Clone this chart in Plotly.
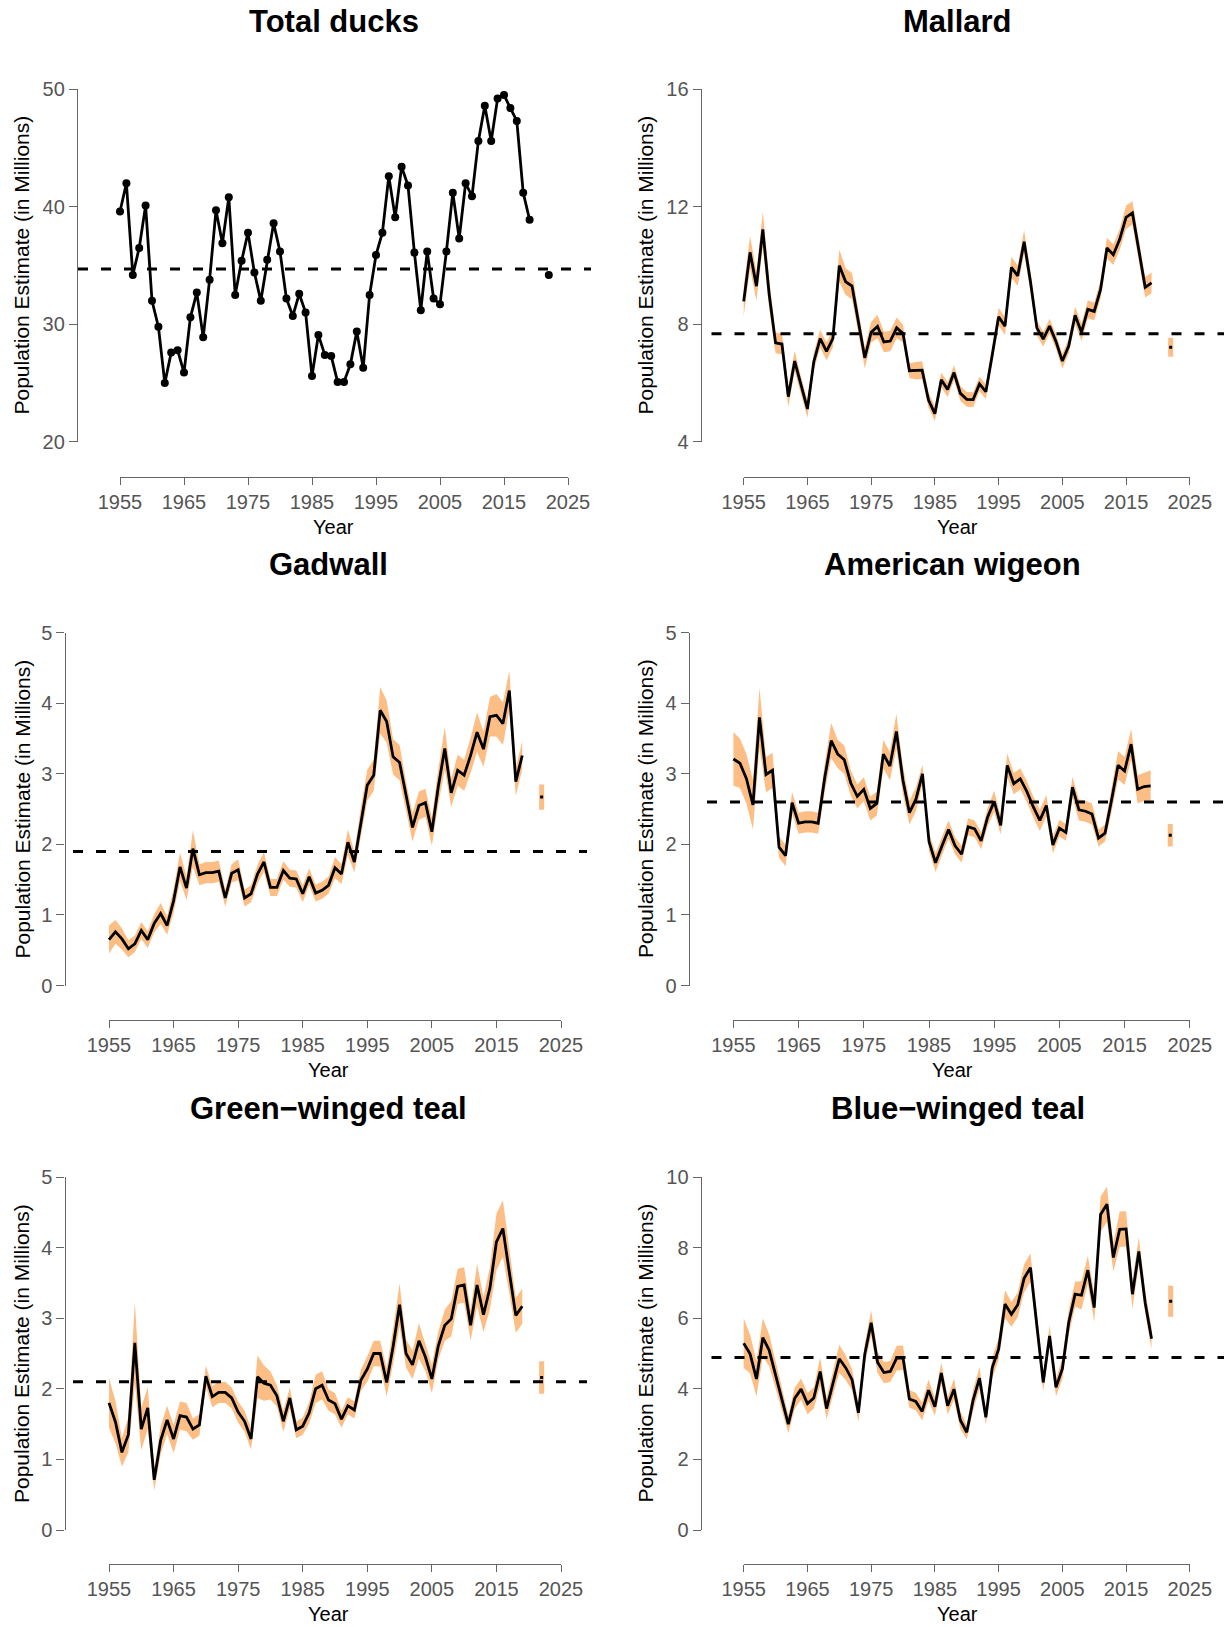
import plotly.graph_objects as go

W, H = 1225, 1627

# ---------------- data ----------------
years = list(range(1955, 2020))
extra_year = 2022
year_ticks = [1955, 1965, 1975, 1985, 1995, 2005, 2015, 2025]

total_ducks = [39.6, 42.0, 34.2, 36.5, 40.1, 32.0, 29.8, 25.0, 27.6, 27.8,
               25.9, 30.6, 32.7, 28.9, 33.8, 39.7, 36.9, 40.8, 32.5, 35.4,
               37.8, 34.4, 32.0, 35.5, 38.6, 36.2, 32.2, 30.7, 32.6, 31.0,
               25.6, 29.1, 27.4, 27.3, 25.1, 25.1, 26.6, 29.4, 26.3, 32.5,
               35.9, 37.8, 42.6, 39.1, 43.4, 41.8, 36.1, 31.2, 36.2, 32.2,
               31.7, 36.2, 41.2, 37.3, 42.0, 40.9, 45.6, 48.6, 45.6, 49.2,
               49.5, 48.4, 47.3, 41.2, 38.9]
total_ducks_2022 = 34.2
total_ducks_lta = 34.7

mallard = [8.78, 10.45, 9.30, 11.23, 9.02, 7.37, 7.33, 5.54, 6.75, 5.90,
           5.12, 6.73, 7.51, 7.08, 7.52, 10.00, 9.45, 9.30, 8.08, 6.86,
           7.73, 7.93, 7.40, 7.43, 7.88, 7.69, 6.42, 6.42, 6.44, 5.42,
           4.96, 6.11, 5.78, 6.36, 5.65, 5.45, 5.44, 5.97, 5.71, 6.96,
           8.26, 7.94, 9.94, 9.65, 10.81, 9.45, 7.88, 7.50, 7.94, 7.42,
           6.75, 7.26, 8.31, 7.73, 8.51, 8.44, 9.19, 10.60, 10.37, 10.89,
           11.64, 11.79, 10.49, 9.26, 9.41]
mallard_ci = [0.50, 0.55, 0.50, 0.60, 0.50,
              0.35, 0.35, 0.35, 0.35, 0.30, 0.30, 0.30, 0.30, 0.30, 0.30,
              0.55, 0.45, 0.45, 0.40, 0.35, 0.35, 0.40, 0.35, 0.35, 0.35,
              0.30, 0.25, 0.30, 0.30, 0.25, 0.25, 0.25, 0.25, 0.25, 0.25,
              0.25, 0.25, 0.25, 0.25, 0.25, 0.30, 0.30, 0.35, 0.35, 0.40,
              0.35, 0.25, 0.25, 0.25, 0.25, 0.25, 0.25, 0.30, 0.30, 0.30,
              0.30, 0.30, 0.35, 0.35, 0.35, 0.40, 0.40, 0.35, 0.35, 0.35]
mallard_2022 = 7.22
mallard_2022_ci = 0.32
mallard_lta = 7.68

gadwall = [0.65, 0.76, 0.66, 0.52, 0.59, 0.78, 0.65, 0.88, 1.02, 0.85,
           1.20, 1.68, 1.38, 1.94, 1.57, 1.60, 1.60, 1.62, 1.24, 1.59,
           1.64, 1.24, 1.30, 1.58, 1.75, 1.39, 1.39, 1.63, 1.52, 1.51,
           1.30, 1.54, 1.31, 1.35, 1.42, 1.67, 1.58, 2.03, 1.75, 2.32,
           2.84, 2.98, 3.90, 3.74, 3.24, 3.16, 2.69, 2.24, 2.55, 2.59,
           2.18, 2.82, 3.36, 2.73, 3.05, 2.98, 3.26, 3.59, 3.35, 3.81,
           3.83, 3.71, 4.18, 2.89, 3.26]
gadwall_ci = [0.20, 0.17, 0.15, 0.12, 0.12,
              0.12, 0.12, 0.13, 0.15, 0.13, 0.17, 0.20, 0.17, 0.26, 0.15,
              0.15, 0.15, 0.15, 0.12, 0.13, 0.15, 0.12, 0.12, 0.13, 0.14,
              0.12, 0.12, 0.13, 0.12, 0.12, 0.12, 0.12, 0.12, 0.12, 0.12,
              0.15, 0.14, 0.18, 0.15, 0.20, 0.22, 0.22, 0.33, 0.30, 0.25,
              0.25, 0.20, 0.20, 0.20, 0.20, 0.20, 0.25, 0.30, 0.20, 0.22,
              0.22, 0.25, 0.28, 0.25, 0.28, 0.30, 0.30, 0.28, 0.20, 0.20]
gadwall_2022 = 2.67
gadwall_2022_ci = 0.18
gadwall_lta = 1.90

american_wigeon = [3.21, 3.15, 2.93, 2.56, 3.80, 2.99, 3.05, 1.96, 1.84, 2.59,
                   2.30, 2.32, 2.32, 2.30, 2.94, 3.47, 3.28, 3.20, 2.87, 2.68,
                   2.78, 2.51, 2.58, 3.28, 3.11, 3.60, 2.91, 2.45, 2.64, 3.00,
                   2.04, 1.74, 1.98, 2.21, 1.98, 1.86, 2.25, 2.22, 2.05, 2.39,
                   2.61, 2.27, 3.12, 2.86, 2.93, 2.75, 2.53, 2.34, 2.55, 1.99,
                   2.23, 2.17, 2.81, 2.49, 2.47, 2.43, 2.09, 2.16, 2.63, 3.12,
                   3.04, 3.42, 2.78, 2.82, 2.83]
american_wigeon_ci = [0.38, 0.35, 0.35, 0.35, 0.42,
                      0.25, 0.25, 0.15, 0.15, 0.15, 0.15, 0.15, 0.15, 0.15, 0.20,
                      0.25, 0.20, 0.20, 0.18, 0.17, 0.17, 0.17, 0.17, 0.20, 0.20,
                      0.25, 0.20, 0.17, 0.17, 0.13, 0.13, 0.13, 0.13, 0.13, 0.12,
                      0.12, 0.12, 0.12, 0.12, 0.13, 0.15, 0.13, 0.17, 0.15, 0.15,
                      0.15, 0.15, 0.15, 0.15, 0.12, 0.12, 0.12, 0.15, 0.15, 0.15,
                      0.15, 0.12, 0.12, 0.17, 0.20, 0.20, 0.22, 0.20, 0.20, 0.22]
american_wigeon_2022 = 2.13
american_wigeon_2022_ci = 0.16
american_wigeon_lta = 2.60

green_winged_teal = [1.80, 1.53, 1.10, 1.35, 2.65, 1.43, 1.73, 0.71, 1.27, 1.56,
                     1.29, 1.62, 1.60, 1.43, 1.49, 2.18, 1.89, 1.95, 1.95, 1.87,
                     1.67, 1.54, 1.29, 2.17, 2.08, 2.05, 1.90, 1.54, 1.87, 1.42,
                     1.47, 1.66, 2.00, 2.05, 1.84, 1.79, 1.57, 1.76, 1.70, 2.12,
                     2.28, 2.50, 2.50, 2.09, 2.60, 3.19, 2.50, 2.34, 2.68, 2.45,
                     2.14, 2.61, 2.90, 2.99, 3.45, 3.47, 2.90, 3.47, 3.05, 3.43,
                     4.08, 4.27, 3.65, 3.04, 3.17]
green_winged_teal_ci = [0.35, 0.30, 0.20, 0.25, 0.58,
                        0.30, 0.30, 0.15, 0.20, 0.20, 0.20, 0.20, 0.20, 0.15, 0.15,
                        0.15, 0.15, 0.15, 0.15, 0.15, 0.15, 0.15, 0.15, 0.30, 0.25,
                        0.20, 0.15, 0.15, 0.15, 0.12, 0.12, 0.15, 0.20, 0.20, 0.15,
                        0.15, 0.12, 0.12, 0.12, 0.15, 0.18, 0.18, 0.18, 0.20, 0.25,
                        0.30, 0.20, 0.20, 0.25, 0.20, 0.20, 0.20, 0.22, 0.25, 0.25,
                        0.25, 0.22, 0.30, 0.25, 0.30, 0.40, 0.40, 0.30, 0.25, 0.25]
green_winged_teal_2022 = 2.16
green_winged_teal_2022_ci = 0.23
green_winged_teal_lta = 2.10

blue_winged_teal = [5.29, 4.99, 4.28, 5.45, 5.09, 4.41, 3.68, 3.00, 3.73, 3.99,
                    3.58, 3.74, 4.49, 3.44, 4.15, 4.85, 4.60, 4.26, 3.32, 4.98,
                    5.87, 4.75, 4.46, 4.49, 4.87, 4.88, 3.71, 3.64, 3.36, 3.96,
                    3.49, 4.45, 3.52, 3.99, 3.11, 2.77, 3.68, 4.30, 3.19, 4.60,
                    5.12, 6.40, 6.11, 6.38, 7.13, 7.43, 5.80, 4.18, 5.50, 4.04,
                    4.56, 5.88, 6.68, 6.65, 7.36, 6.30, 8.94, 9.23, 7.72, 8.52,
                    8.53, 6.68, 7.89, 6.44, 5.42]
blue_winged_teal_ci = [0.70, 0.55, 0.50, 0.55, 0.45,
                       0.40, 0.35, 0.25, 0.30, 0.30, 0.30, 0.30, 0.40, 0.30, 0.35,
                       0.40, 0.35, 0.30, 0.25, 0.30, 0.35, 0.30, 0.30, 0.30, 0.35,
                       0.35, 0.25, 0.25, 0.25, 0.30, 0.25, 0.30, 0.25, 0.30, 0.25,
                       0.20, 0.30, 0.30, 0.20, 0.30, 0.30, 0.40, 0.35, 0.35, 0.40,
                       0.40, 0.35, 0.25, 0.30, 0.25, 0.30, 0.35, 0.35, 0.40, 0.40,
                       0.40, 0.50, 0.50, 0.40, 0.50, 0.50, 0.40, 0.40, 0.30, 0.30]
blue_winged_teal_2022 = 6.48
blue_winged_teal_2022_ci = 0.44
blue_winged_teal_lta = 4.89

panels = [
    dict(title="Total ducks", est=total_ducks, ci=None, est22=total_ducks_2022,
         ci22=None, lta=total_ducks_lta, yticks=[20, 30, 40, 50]),
    dict(title="Mallard", est=mallard, ci=mallard_ci, est22=mallard_2022,
         ci22=mallard_2022_ci, lta=mallard_lta, yticks=[4, 8, 12, 16]),
    dict(title="Gadwall", est=gadwall, ci=gadwall_ci, est22=gadwall_2022,
         ci22=gadwall_2022_ci, lta=gadwall_lta, yticks=[0, 1, 2, 3, 4, 5]),
    dict(title="American wigeon", est=american_wigeon, ci=american_wigeon_ci,
         est22=american_wigeon_2022, ci22=american_wigeon_2022_ci,
         lta=american_wigeon_lta, yticks=[0, 1, 2, 3, 4, 5]),
    dict(title="Green\u2212winged teal", est=green_winged_teal, ci=green_winged_teal_ci,
         est22=green_winged_teal_2022, ci22=green_winged_teal_2022_ci,
         lta=green_winged_teal_lta, yticks=[0, 1, 2, 3, 4, 5]),
    dict(title="Blue\u2212winged teal", est=blue_winged_teal, ci=blue_winged_teal_ci,
         est22=blue_winged_teal_2022, ci22=blue_winged_teal_2022_ci,
         lta=blue_winged_teal_lta, yticks=[0, 2, 4, 6, 8, 10]),
]

# ---------------- geometry (pixels) ----------------
geom = [
    dict(yax=77.0, yt=89.2, yb=441.9, x0=120.0, x1=568.0, xl=476.5, dl=78, dr=591,
         tx=333.5, ty=21, yrx=333.5, yry=526.5, ytx=21, yty=265.5),
    dict(yax=700.7, yt=89.2, yb=441.9, x0=743.7, x1=1189.8, xl=476.5, dl=711.5, dr=1224,
         tx=957.5, ty=21, yrx=957.5, yry=526.5, ytx=645, yty=265.5),
    dict(yax=64.5, yt=632.7, yb=985.5, x0=109.0, x1=561.0, xl=1020.0, dl=73, dr=587,
         tx=328, ty=564.5, yrx=328, yry=1070, ytx=21.5, yty=809),
    dict(yax=688.8, yt=632.7, yb=985.5, x0=733.4, x1=1189.8, xl=1020.0, dl=707, dr=1224,
         tx=952, ty=564.5, yrx=952, yry=1070, ytx=645, yty=809),
    dict(yax=64.5, yt=1177.0, yb=1530.0, x0=109.0, x1=561.0, xl=1564.0, dl=73, dr=587,
         tx=328, ty=1108.5, yrx=328, yry=1614, ytx=21.5, yty=1353.5),
    dict(yax=700.7, yt=1177.0, yb=1530.0, x0=743.7, x1=1189.8, xl=1564.0, dl=711.5, dr=1224,
         tx=957.5, ty=1108.5, yrx=957.5, yry=1614, ytx=645, yty=1353.5),
]

FONT = "Liberation Sans, Arial, Helvetica, sans-serif"
ORANGE = "#FDBE85"
AXIS_COL = "#666666"
TICK_COL = "#555555"


def ax_id(letter, n):
    return letter if n == 1 else f"{letter}{n}"


fig = go.Figure()
layout = {}
shapes = []
annotations = []

for i, (p, g) in enumerate(zip(panels, geom), start=1):
    xa, ya = ax_id("x", i), ax_id("y", i)
    vx, vy = ax_id("x", i + 6), ax_id("y", i + 6)
    ymin, ymax = p["yticks"][0], p["yticks"][-1]
    ppy = (g["yb"] - g["yt"]) / (ymax - ymin)
    ppx = (g["x1"] - g["x0"]) / (year_ticks[-1] - year_ticks[0])

    def yr_at(px, g=g, ppx=ppx):
        return year_ticks[0] + (px - g["x0"]) / ppx

    def val_at(py, g=g, ppy=ppy, ymax=ymax):
        return ymax - (py - g["yt"]) / ppy

    pad = 30
    layout["xaxis" if i == 1 else f"xaxis{i}"] = dict(
        domain=[g["dl"] / W, g["dr"] / W],
        range=[yr_at(g["dl"]), yr_at(g["dr"])],
        visible=False, anchor=ya, fixedrange=True, automargin=False)
    layout["yaxis" if i == 1 else f"yaxis{i}"] = dict(
        domain=[1 - (g["yb"] + pad) / H, 1 - (g["yt"] - pad) / H],
        range=[val_at(g["yb"] + pad), val_at(g["yt"] - pad)],
        visible=False, anchor=xa, fixedrange=True, automargin=False)
    layout[f"xaxis{i + 6}"] = dict(
        domain=[g["x0"] / W, g["x1"] / W],
        range=[year_ticks[0], year_ticks[-1]],
        anchor="free", position=1 - g["xl"] / H,
        tickmode="array", tickvals=year_ticks,
        ticks="outside", ticklen=7, tickwidth=1.3,
        tickcolor=AXIS_COL, showline=True,
        linecolor=AXIS_COL, linewidth=1.3,
        showgrid=False, zeroline=False, automargin=False,
        tickfont=dict(family=FONT, size=20, color=TICK_COL),
        fixedrange=True)
    layout[f"yaxis{i + 6}"] = dict(
        domain=[1 - g["yb"] / H, 1 - g["yt"] / H],
        range=[ymin, ymax],
        anchor="free", position=g["yax"] / W,
        tickmode="array", tickvals=p["yticks"],
        ticks="outside", ticklen=8, tickwidth=1.3,
        tickcolor=AXIS_COL, showline=True,
        linecolor=AXIS_COL, linewidth=1.3,
        showgrid=False, zeroline=False, automargin=False,
        tickfont=dict(family=FONT, size=20, color=TICK_COL),
        fixedrange=True)

    # empty trace so the decorative axis pair forms a subplot
    fig.add_trace(go.Scatter(x=[], y=[], xaxis=vx, yaxis=vy, showlegend=False,
                             hoverinfo="skip"))

    if p["ci"] is not None:
        lo = [e - c for e, c in zip(p["est"], p["ci"])]
        hi = [e + c for e, c in zip(p["est"], p["ci"])]
        fig.add_trace(go.Scatter(x=years, y=lo, mode="lines", line=dict(width=0),
                                 xaxis=xa, yaxis=ya, showlegend=False, hoverinfo="skip"))
        fig.add_trace(go.Scatter(x=years, y=hi, mode="lines", line=dict(width=0),
                                 fill="tonexty", fillcolor=ORANGE,
                                 xaxis=xa, yaxis=ya, showlegend=False, hoverinfo="skip"))
        fig.add_trace(go.Scatter(x=[extra_year, extra_year],
                                 y=[p["est22"] - p["ci22"], p["est22"] + p["ci22"]],
                                 mode="lines", line=dict(color=ORANGE, width=5),
                                 xaxis=xa, yaxis=ya, showlegend=False))
        fig.add_trace(go.Scatter(x=years, y=p["est"], mode="lines",
                                 line=dict(color="black", width=2.8),
                                 xaxis=xa, yaxis=ya, showlegend=False))
        fig.add_trace(go.Scatter(x=[extra_year], y=[p["est22"]], mode="markers",
                                 marker=dict(symbol="square", size=3, color="black"),
                                 xaxis=xa, yaxis=ya, showlegend=False))
    else:
        fig.add_trace(go.Scatter(x=years, y=p["est"], mode="lines+markers",
                                 line=dict(color="black", width=2.8),
                                 marker=dict(color="black", size=8),
                                 xaxis=xa, yaxis=ya, showlegend=False))
        fig.add_trace(go.Scatter(x=[extra_year], y=[p["est22"]], mode="markers",
                                 marker=dict(color="black", size=8),
                                 xaxis=xa, yaxis=ya, showlegend=False))

    shapes.append(dict(type="line", xref=f"{xa} domain", x0=0, x1=1,
                       yref=ya, y0=p["lta"], y1=p["lta"],
                       line=dict(color="black", width=3, dash="10px,13px"),
                       layer="above"))

    annotations.append(dict(text=f"<b>{p['title']}</b>", x=g["tx"] / W, y=1 - g["ty"] / H,
                            xref="paper", yref="paper", showarrow=False,
                            xanchor="center", yanchor="middle",
                            font=dict(family=FONT, size=31, color="black")))
    annotations.append(dict(text="Year", x=g["yrx"] / W, y=1 - g["yry"] / H,
                            xref="paper", yref="paper", showarrow=False,
                            xanchor="center", yanchor="middle",
                            font=dict(family=FONT, size=20, color="black")))
    annotations.append(dict(text="Population Estimate (in Millions)",
                            x=g["ytx"] / W, y=1 - g["yty"] / H,
                            xref="paper", yref="paper", showarrow=False,
                            textangle=-90, xanchor="center", yanchor="middle",
                            font=dict(family=FONT, size=21, color="black")))

fig.update_layout(width=W, height=H, autosize=False,
                  margin=dict(l=0, r=0, t=0, b=0, pad=0, autoexpand=False),
                  paper_bgcolor="white", plot_bgcolor="rgba(0,0,0,0)",
                  showlegend=False, shapes=shapes, annotations=annotations,
                  **layout)

fig.write_html("out.html", config={"displayModeBar": False})
